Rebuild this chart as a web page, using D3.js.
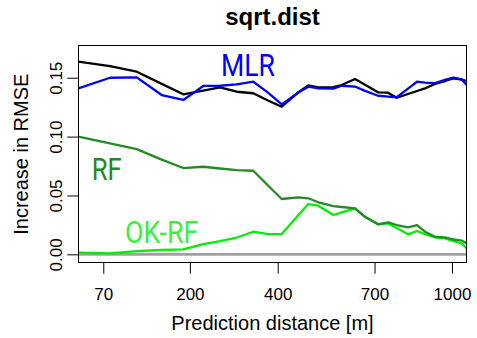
<!DOCTYPE html>
<html><head><meta charset="utf-8">
<script src="https://cdn.jsdelivr.net/npm/d3@7"></script>
<style>body{margin:0;background:#fff}svg{display:block}</style>
</head><body>
<svg id="c" width="477" height="338"></svg>
<script>
const distance = [44.9,77.7,112.3,150.4,187.8,226.1,260.8,298.1,337.5,374.5,410.7,455.9,485.8,515.6,562.0,588.9,632.7,666.7,712.3,748.3,780.4,823.0,857.8,889.4,929.6,970.7,1005.5,1041.4,1063.0];
const blackSeries = [0.1636,0.1599,0.1551,0.1448,0.1359,0.1391,0.1418,0.1381,0.1368,0.1306,0.1254,0.1374,0.1434,0.1418,0.1421,0.1438,0.1489,0.1441,0.1376,0.1373,0.1330,0.1362,0.1387,0.1410,0.1447,0.1472,0.1495,0.1485,0.1472];
const mlr = [0.1410,0.1500,0.1503,0.1353,0.1311,0.1430,0.1432,0.1444,0.1466,0.1373,0.1274,0.1372,0.1424,0.1410,0.1408,0.1432,0.1425,0.1388,0.1347,0.1340,0.1334,0.1408,0.1466,0.1459,0.1455,0.1481,0.1500,0.1486,0.1438];
const rf = [0.0999,0.0942,0.0894,0.0804,0.0733,0.0744,0.0729,0.0716,0.0710,0.0585,0.0470,0.0484,0.0476,0.0442,0.0410,0.0402,0.0391,0.0319,0.0255,0.0272,0.0249,0.0229,0.0249,0.0192,0.0149,0.0144,0.0126,0.0117,0.0093];
const okrf = [0.0014,0.0008,0.0028,0.0037,0.0042,0.0087,0.0113,0.0143,0.0192,0.0172,0.0172,0.0329,0.0427,0.0413,0.0334,0.0356,0.0391,0.0319,0.0255,0.0263,0.0224,0.0170,0.0198,0.0172,0.0144,0.0136,0.0113,0.0092,0.0051];
const xTicks = [70,200,400,700,1000];
const yTicks = [0,0.05,0.10,0.15];
const title = "sqrt.dist";
const xLabel = "Prediction distance [m]";
const yLabel = "Increase in RMSE";

const L=78.3, R=466.7, T=45.7, B=262.7;
const svg = d3.select("#c");
const x = d3.scaleSqrt().domain([44.9,1063]).range([L,R]);
const y = d3.scaleLinear().domain([-0.0071,0.1772]).range([B,T]);

svg.append("defs").append("clipPath").attr("id","clip")
  .append("rect").attr("x",L).attr("y",T).attr("width",R-L).attr("height",B-T);

const g = svg.append("g").attr("clip-path","url(#clip)");
g.append("line").attr("x1",L).attr("x2",R).attr("y1",y(0)).attr("y2",y(0))
  .attr("stroke","#a0a0a0").attr("stroke-width",2.8);

const line = d3.line().x((d,i)=>x(distance[i])).y(d=>y(d));
const series = [[blackSeries,"#000000"],[mlr,"#0000ff"],[okrf,"#00ee00"],[rf,"#228b22"]];
series.forEach(([s,c])=>{
  g.append("path").attr("d",line(s)).attr("fill","none").attr("stroke",c)
   .attr("stroke-width",2.3).attr("stroke-linejoin","round");
});

svg.append("rect").attr("x",78.5).attr("y",45.5).attr("width",388).attr("height",217)
  .attr("fill","none").attr("stroke","#000").attr("stroke-width",1);

const xa = svg.append("g").attr("transform",`translate(0,${B})`)
  .call(d3.axisBottom(x).tickValues(xTicks).tickSize(11).tickFormat(d3.format("d")));
xa.select(".domain").remove();
xa.selectAll("text").attr("y",37.5).attr("dy",null)
  .attr("font-family","'Liberation Sans',Arial,sans-serif").attr("font-size",17).attr("fill","#000");

const ya = svg.append("g").attr("transform",`translate(${L},0)`)
  .call(d3.axisLeft(y).tickValues(yTicks).tickSize(11).tickFormat(d3.format(".2f")));
ya.select(".domain").remove();
ya.selectAll("text").attr("x",null).attr("dy",null).attr("text-anchor","middle")
  .attr("transform","translate(-16.6,0) rotate(-90)")
  .attr("font-family","'Liberation Sans',Arial,sans-serif").attr("font-size",17).attr("fill","#000");

svg.append("text").attr("x",(L+R)/2).attr("y",25).attr("text-anchor","middle")
  .attr("font-family","'Liberation Sans',Arial,sans-serif").attr("font-weight","bold")
  .attr("font-size",24).text(title);
svg.append("text").attr("x",(L+R)/2).attr("y",330).attr("text-anchor","middle")
  .attr("font-family","'Liberation Sans',Arial,sans-serif").attr("font-size",20).text(xLabel);
svg.append("text").attr("transform",`translate(28,${(T+B)/2}) rotate(-90)`).attr("text-anchor","middle")
  .attr("font-family","'Liberation Sans',Arial,sans-serif").attr("font-size",20).text(yLabel);

const labels = [["MLR",221,76,54,"#0000ff"],["RF",91.7,180,30,"#228b22"],["OK-RF",125,243.3,73.3,"#40ee40"]];
labels.forEach(([t,lx,ly,w,c])=>{
  svg.append("text").attr("x",lx).attr("y",ly).attr("fill",c)
    .attr("font-family","Roboto,sans-serif").attr("font-size",31)
    .attr("textLength",w).attr("lengthAdjust","spacingAndGlyphs").text(t);
});
</script>
</body></html>
